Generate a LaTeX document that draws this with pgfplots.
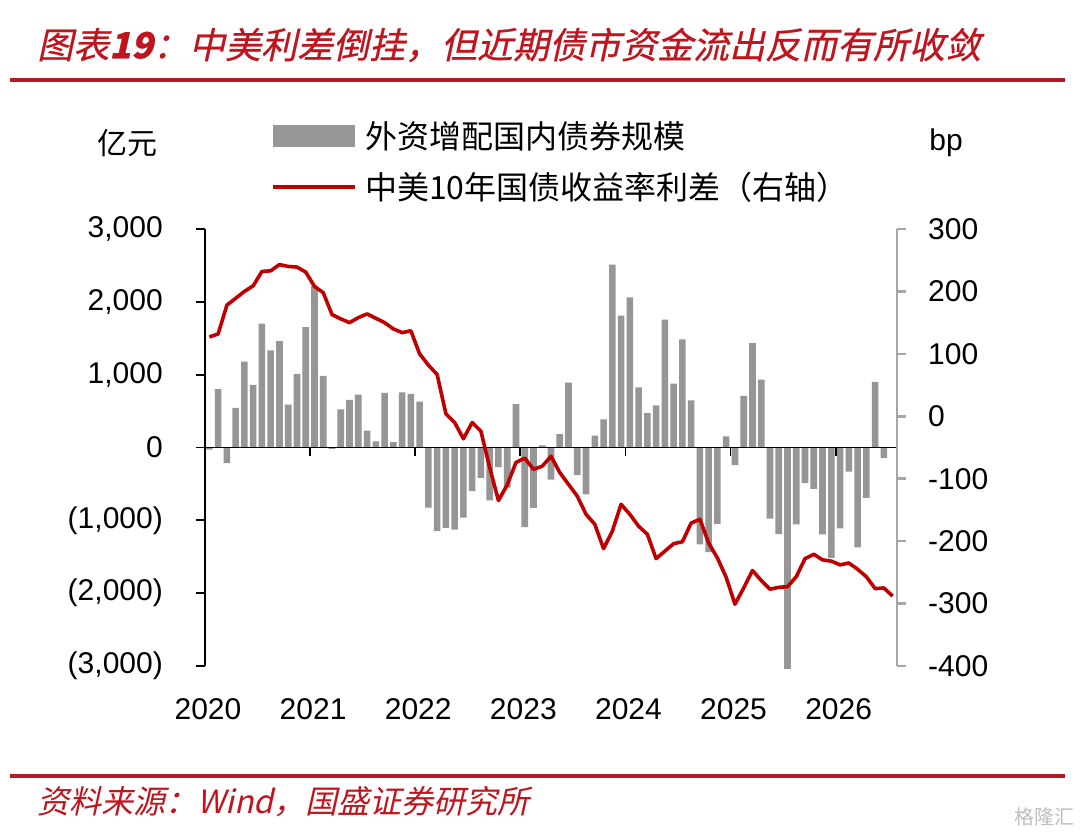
\documentclass[border=0pt]{standalone}
\usepackage{pgfplots}
\pgfplotsset{compat=1.18}
\usepackage{pgfplotstable}
\usepackage{fontspec}
\setmainfont{Liberation Sans}
\newfontfamily\cjk{Noto Sans CJK SC}
\newfontfamily\cjkslant[FakeSlant=0.22,FakeBold=0.6]{Noto Sans CJK SC}
\newfontfamily\cjkslantlight[FakeSlant=0.22]{Noto Sans CJK SC}
\definecolor{barg}{RGB}{150,150,150}
\definecolor{linered}{RGB}{192,0,0}
\definecolor{titlered}{RGB}{192,20,30}
\definecolor{rulered}{RGB}{180,25,40}
\definecolor{axgray}{RGB}{166,166,166}

\pgfplotstableread{
x y
0.5 -30
1.5 800
2.5 -215
3.5 543
4.5 1180
5.5 860
6.5 1700
7.5 1332
8.5 1460
9.5 588
10.5 1011
11.5 1653
12.5 2220
13.5 983
14.5 -20
15.5 523
16.5 653
17.5 726
18.5 230
19.5 83
20.5 749
21.5 74
22.5 758
23.5 735
24.5 629
25.5 -826
26.5 -1147
27.5 -1102
28.5 -1129
29.5 -964
30.5 -600
31.5 -418
32.5 -725
33.5 -268
34.5 -551
35.5 597
36.5 -1092
37.5 -830
38.5 30
39.5 -440
40.5 184
41.5 891
42.5 -378
43.5 -642
44.5 162
45.5 386
46.5 2512
47.5 1810
48.5 2062
49.5 827
50.5 473
51.5 579
52.5 1755
53.5 877
54.5 1483
55.5 647
56.5 -1331
57.5 -1437
58.5 -1047
59.5 152
60.5 -243
61.5 708
62.5 1433
63.5 932
64.5 -978
65.5 -1190
66.5 -3040
67.5 -1056
68.5 -488
69.5 -568
70.5 -1193
71.5 -1515
72.5 -1111
73.5 -331
74.5 -1372
75.5 -690
76.5 900
77.5 -146
}\bars

\pgfplotstableread{
x y
0.5 127
1.5 132
2.5 178
3.5 189
4.5 200
5.5 209
6.5 232
7.5 233
8.5 243
9.5 240
10.5 239
11.5 231
12.5 208
13.5 198
14.5 163
15.5 156
16.5 150
17.5 158
18.5 164
19.5 157
20.5 150
21.5 140
22.5 134
23.5 137
24.5 100
25.5 82
26.5 67
27.5 4
28.5 -10
29.5 -36
30.5 -10
31.5 -24
32.5 -82
33.5 -135
34.5 -110
35.5 -74
36.5 -67
37.5 -85
38.5 -80
39.5 -64
40.5 -90
41.5 -109
42.5 -128
43.5 -157
44.5 -173
45.5 -212
46.5 -184
47.5 -141
48.5 -157
49.5 -176
50.5 -189
51.5 -228
52.5 -216
53.5 -204
54.5 -201
55.5 -171
56.5 -165
57.5 -203
58.5 -227
59.5 -258
60.5 -301
61.5 -275
62.5 -247
63.5 -263
64.5 -277
65.5 -274
66.5 -273
67.5 -257
68.5 -228
69.5 -221
70.5 -230
71.5 -232
72.5 -238
73.5 -235
74.5 -245
75.5 -257
76.5 -276
77.5 -275
78.5 -288
}\spread

\begin{document}
\begin{tikzpicture}
\path[use as bounding box] (0bp,0bp) rectangle (1080bp,832bp);
\fill[white] (0bp,0bp) rectangle (1080bp,832bp);

% title
\node[anchor=west, inner sep=0pt, text=titlered] at (37bp,787bp)
  {\fontsize{36bp}{40bp}\selectfont\cjkslant 图表\textbf{\textit{19}}：中美利差倒挂，但近期债市资金流出反而有所收敛};
\fill[rulered] (10bp,750bp) rectangle (1065bp,754bp);

% footer
\fill[rulered] (10bp,54bp) rectangle (1065bp,58bp);
\node[anchor=west, inner sep=0pt, text=titlered] at (37bp,30bp)
  {\fontsize{32bp}{36bp}\selectfont\cjkslantlight 资料来源：\textit{Wind}，国盛证券研究所};
\node[anchor=east, inner sep=0pt, text=black!25] at (1075bp,15bp)
  {\fontsize{20bp}{22bp}\selectfont\cjk 格隆汇};

% units
\node[inner sep=0pt] at (127bp,689bp) {\fontsize{30bp}{34bp}\selectfont\cjk 亿元};
\node[inner sep=0pt] at (946bp,689bp) {\fontsize{30bp}{34bp}\selectfont bp};

% legend
\fill[barg] (273bp,685bp) rectangle (355bp,707bp);
\node[anchor=west, inner sep=0pt] at (365bp,696bp) {\fontsize{32bp}{36bp}\selectfont\cjk 外资增配国内债券规模};
\draw[linered, line width=4bp] (273bp,645bp) -- (355bp,645bp);
\node[anchor=west, inner sep=0pt] at (365bp,645bp) {\fontsize{32bp}{36bp}\selectfont\cjk 中美10年国债收益率利差（右轴）};

\begin{axis}[
  at={(205bp,166bp)}, anchor=south west, scale only axis,
  width=692bp, height=437bp,
  xmin=0, xmax=79, ymin=-3000, ymax=3000,
  clip=false,
  axis y line*=left, axis x line*=bottom,
  x axis line style={draw=none},
  y axis line style={black, line width=1.8bp},
  xtick={0,12,24,36,48,60,72},
  xticklabels={2020,2021,2022,2023,2024,2025,2026},
  xtick style={draw=none},
  ytick={-3000,-2000,-1000,0,1000,2000,3000},
  yticklabels={{(3,000)},{(2,000)},{(1,000)},0,{1,000},{2,000},{3,000}},
  ytick style={black, line width=1.8bp},
  tick align=outside, major tick length=9bp,
  /pgf/number format/assume math mode=true,
  yticklabel style={font=\fontsize{30bp}{36bp}\selectfont, inner sep=0pt, xshift=-33bp},
  xticklabel style={font=\fontsize{30bp}{36bp}\selectfont, inner sep=0pt, yshift=-23bp, xshift=3bp},
]
\addplot[ybar, bar width=6.6bp, fill=barg, draw=none] table[x=x,y=y] {\bars};
\draw[black, line width=1.8bp] (axis cs:0,0) -- (axis cs:79,0);
\draw[black, line width=1.8bp] (axis cs:12,0) -- ++(0bp,-9bp);
\draw[black, line width=1.8bp] (axis cs:24,0) -- ++(0bp,-9bp);
\draw[black, line width=1.8bp] (axis cs:36,0) -- ++(0bp,-9bp);
\draw[black, line width=1.8bp] (axis cs:48,0) -- ++(0bp,-9bp);
\draw[black, line width=1.8bp] (axis cs:60,0) -- ++(0bp,-9bp);
\draw[black, line width=1.8bp] (axis cs:72,0) -- ++(0bp,-9bp);
\end{axis}

\begin{axis}[
  at={(205bp,166bp)}, anchor=south west, scale only axis,
  width=692bp, height=437bp,
  xmin=0, xmax=79, ymin=-400, ymax=300,
  axis y line*=right, axis x line=none,
  y axis line style={axgray, line width=2.5bp},
  ytick={-400,-300,-200,-100,0,100,200,300},
  yticklabels={-400,-300,-200,-100,0,100,200,300},
  ytick style={axgray, line width=2.5bp},
  tick align=outside, major tick length=9bp,
  /pgf/number format/assume math mode=true,
  yticklabel style={font=\fontsize{30bp}{36bp}\selectfont, inner sep=0pt, xshift=22bp},
]
\addplot[linered, line width=3.6bp, line join=round, mark=none] table[x=x,y=y] {\spread};
\end{axis}
\end{tikzpicture}
\end{document}
